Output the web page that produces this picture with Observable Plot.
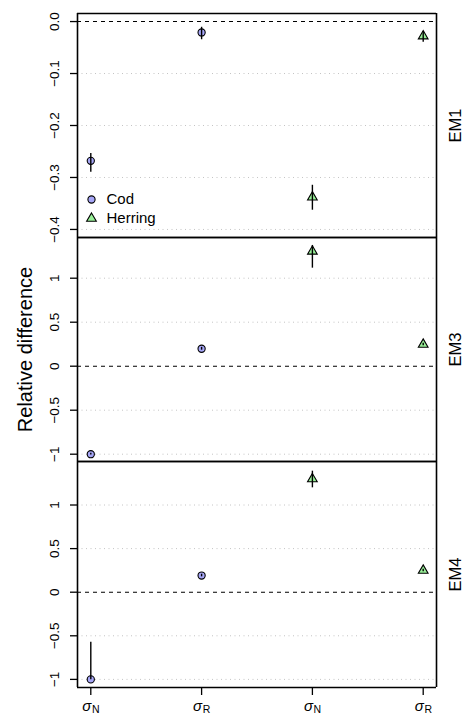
<!DOCTYPE html>
<html>
<head>
<meta charset="utf-8">
<script src="https://cdn.jsdelivr.net/npm/d3@7"></script>
<script src="https://cdn.jsdelivr.net/npm/@observablehq/plot@0.6"></script>
<style>
  html, body { margin: 0; padding: 0; background: white; }
  #chart { width: 466px; }
  #chart svg { display: block; overflow: visible; background: transparent; }
</style>
</head>
<body>
<div id="chart"></div>
<script>
// ---- data ----
const species = ["Cod", "Cod", "Herring", "Herring"];
const paramSym = ["σ", "σ", "σ", "σ"];
const paramSub = ["N", "R", "N", "R"];
const positions = [1, 2, 3, 4];
const models = ["EM1", "EM3", "EM4"];

const em1Mid = [-0.268, -0.021, -0.338, -0.028];
const em1Lo  = [-0.290, -0.035, -0.363, -0.040];
const em1Hi  = [-0.254, -0.011, -0.315, -0.019];

const em3Mid = [-1.000, 0.198, 1.305, 0.247];
const em3Lo  = [-1.010, 0.182, 1.114, 0.232];
const em3Hi  = [-0.990, 0.214, 1.372, 0.262];

const em4Mid = [-1.000, 0.191, 1.298, 0.249];
const em4Lo  = [-1.005, 0.176, 1.197, 0.235];
const em4Hi  = [-0.573, 0.206, 1.388, 0.262];

const ticksEM1 = [0, -0.1, -0.2, -0.3, -0.4];
const labelsEM1 = ["0.0", "−0.1", "−0.2", "−0.3", "−0.4"];
const ticksEM34 = [1, 0.5, 0, -0.5, -1];
const labelsEM34 = ["1", "0.5", "0", "−0.5", "−1"];

const legendItems = ["Cod", "Herring"];

// ---- build ----
const font = "'Liberation Sans', Arial, Helvetica, sans-serif";
const xDomain = [0.88, 4.12];

function rowsFor(mid, lo, hi) {
  return positions.map((p, i) => ({x: p, species: species[i], mid: mid[i], lo: lo[i], hi: hi[i]}));
}

function panel({mid, lo, hi, yDomain, ticks, labels, model, height, marginTop, marginBottom, legend, xAxis, yTitle}) {
  const rows = rowsFor(mid, lo, hi);
  const tickRows = ticks.map((t, i) => ({t, label: labels[i]}));
  const marks = [
    Plot.ruleY(ticks.filter(t => t !== 0), {y: d => d, stroke: "#c4c4c4", strokeDasharray: "1,3.5", strokeWidth: 1}),
    Plot.ruleY([0], {y: d => d, stroke: "black", strokeDasharray: "4,4", strokeWidth: 1.1}),
    Plot.dot(rows, {x: "x", y: "mid", symbol: "species", fill: "species", stroke: "black", strokeWidth: 1.1, r: 3.6}),
    Plot.ruleX(rows, {x: "x", y1: "lo", y2: "hi", stroke: "black", strokeWidth: 1.4}),
    Plot.ruleX(xDomain, {x: d => d, stroke: "black", strokeWidth: 1.6}),
    Plot.ruleY(yDomain, {y: d => d, stroke: "black", strokeWidth: 1.6}),
    Plot.axisY(ticks, {tickSize: 7, tickFormat: () => "", label: null, strokeWidth: 1.3}),
    Plot.text(tickRows, {y: "t", text: "label", frameAnchor: "left", textAnchor: "middle", lineAnchor: "middle", dx: -23, rotate: -90, fontSize: 13.5, fill: "black"}),
    Plot.text([model], {frameAnchor: "right", textAnchor: "middle", lineAnchor: "middle", dx: 19, rotate: -90, fontSize: 16.5, fill: "black", text: d => d})
  ];
  if (yTitle) {
    marks.push(Plot.text([yTitle], {frameAnchor: "left", textAnchor: "middle", lineAnchor: "middle", dx: -52, rotate: -90, fontSize: 20, fill: "black", text: d => d}));
  }
  if (legend) {
    legendItems.forEach((s, i) => {
      marks.push(Plot.dot([s], {frameAnchor: "bottom-left", dx: 14, dy: -38 + i * 19, symbol: d => d, fill: d => d, stroke: "black", strokeWidth: 1.1, r: 3.6}));
      marks.push(Plot.text([s], {frameAnchor: "bottom-left", dx: 29, dy: -38 + i * 19, text: d => d, textAnchor: "start", lineAnchor: "middle", fontSize: 15, fill: "black"}));
    });
  }
  if (xAxis) {
    const labRows = positions.map((p, i) => ({x: p, sym: paramSym[i], sub: paramSub[i]}));
    marks.push(Plot.axisX(positions, {tickSize: 8, tickFormat: () => "", label: null, strokeWidth: 1.3}));
    marks.push(Plot.text(labRows, {x: "x", text: "sym", frameAnchor: "bottom", lineAnchor: "middle", textAnchor: "middle", dy: 19, dx: -4, fontSize: 15, fontStyle: "italic", fill: "black"}));
    marks.push(Plot.text(labRows, {x: "x", text: "sub", frameAnchor: "bottom", lineAnchor: "middle", textAnchor: "middle", dy: 22, dx: 5, fontSize: 10.5, fill: "black"}));
  }
  return Plot.plot({
    width: 466,
    height,
    marginLeft: 77,
    marginRight: 30,
    marginTop,
    marginBottom,
    style: {fontFamily: font, background: "transparent", overflow: "visible"},
    x: {type: "linear", domain: xDomain, axis: null},
    y: {domain: yDomain, axis: null},
    symbol: {domain: ["Cod", "Herring"], range: ["circle", "triangle"]},
    color: {domain: ["Cod", "Herring"], range: ["#a6a6f7", "#98f098"]},
    marks
  });
}

const chart = document.getElementById("chart");
chart.appendChild(panel({mid: em1Mid, lo: em1Lo, hi: em1Hi, yDomain: [-0.4155, 0.0155], ticks: ticksEM1, labels: labelsEM1,
  model: models[0], height: 237, marginTop: 13, marginBottom: 0, legend: true}));
chart.appendChild(panel({mid: em3Mid, lo: em3Lo, hi: em3Hi, yDomain: [-1.083, 1.4625], ticks: ticksEM34, labels: labelsEM34,
  model: models[1], height: 224, marginTop: 0, marginBottom: 0, yTitle: "Relative difference"}));
chart.appendChild(panel({mid: em4Mid, lo: em4Lo, hi: em4Hi, yDomain: [-1.093, 1.499], ticks: ticksEM34, labels: labelsEM34,
  model: models[2], height: 254, marginTop: 0, marginBottom: 28, xAxis: true}));
</script>
</body>
</html>
